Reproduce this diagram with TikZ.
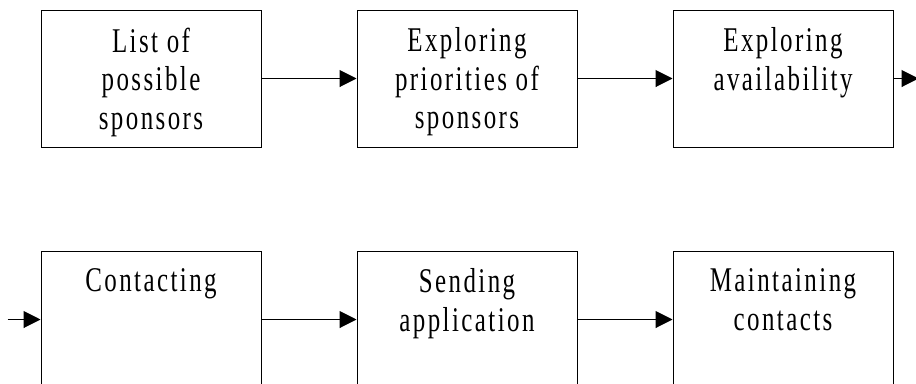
\documentclass[tikz,border=0pt]{standalone}
\usepackage{fontspec}
\setmainfont{Liberation Serif}[FakeStretch=0.72,LetterSpace=7]
\usetikzlibrary{positioning,arrows.meta}

\begin{document}
\begin{tikzpicture}[x=0.75pt,y=0.75pt,
    stage/.style = {draw, line width=0.75pt, minimum width=165pt, minimum height=102.75pt, inner sep=0pt},
    lbl/.style = {align=center, inner sep=0pt, font=\fontsize{26}{28.9}\selectfont},
    flow/.style = {line width=0.75pt, -{Triangle[length=12.75pt,width=12.75pt]}}]
    \clip (0,0) rectangle (916,-383);

    % top row
    \node[stage](b1) at (151,-78.5){};
    \node[stage](b2)[right=71.25pt of b1]{};
    \node[stage](b3)[right=71.25pt of b2]{};
    % bottom row
    \node[stage](b4)[below=77.25pt of b1]{};
    \node[stage](b5)[right=71.25pt of b4]{};
    \node[stage](b6)[right=71.25pt of b5]{};

    \node[lbl](t1)[below=13.5pt of b1.north]{List of\\possible\\sponsors};
    \node[lbl](t2)[below=13.5pt of b2.north]{Exploring\\priorities of\\sponsors};
    \node[lbl](t3)[below=13.5pt of b3.north]{Exploring\\availability};
    \node[lbl](t4)[below=13.5pt of b4.north]{Contacting};
    \node[lbl](t5)[below=13.5pt of b5.north]{Sending\\application};
    \node[lbl](t6)[below=13.5pt of b6.north]{Maintaining\\contacts};

    \coordinate (out) at ([xshift=18.75pt]b3.east);
    \coordinate (in) at ([xshift=-24.75pt]b4.west);

    \draw[flow] (b1) -- (b2);\draw[flow] (b2) -- (b3);\draw[flow] (b3) -- (out);
    \draw[flow] (in) -- (b4);\draw[flow] (b4) -- (b5);\draw[flow] (b5) -- (b6);
\end{tikzpicture}
\end{document}
